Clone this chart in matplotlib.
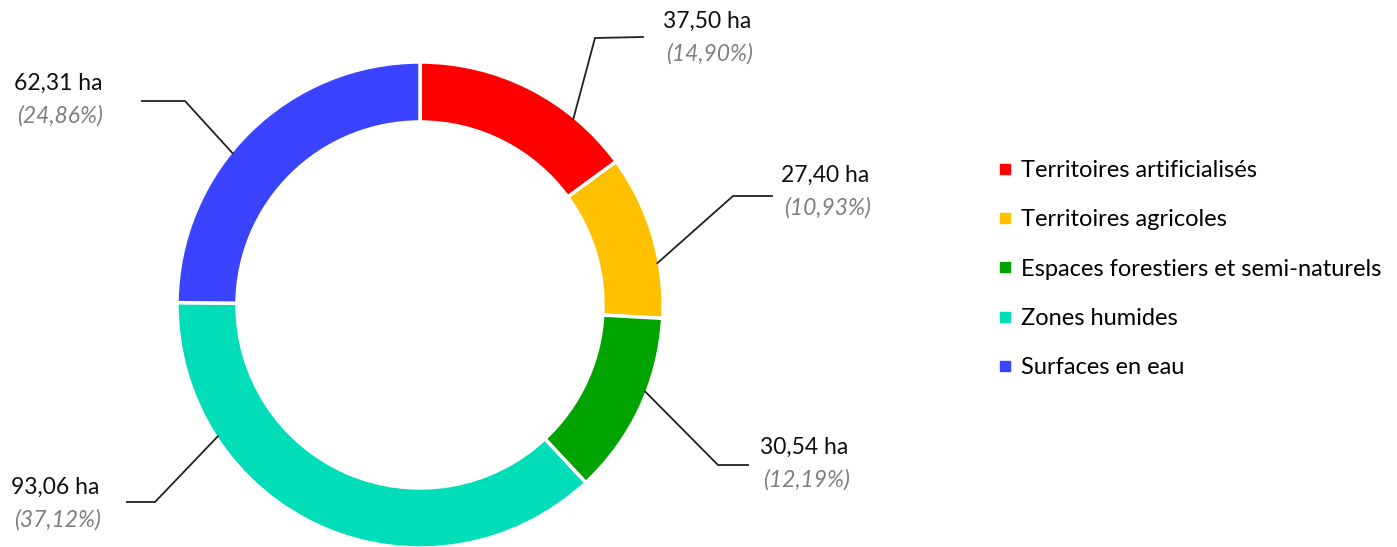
import numpy as np
import matplotlib.pyplot as plt
from matplotlib.lines import Line2D

plt.rcParams['font.family'] = ['Lato', 'DejaVu Sans']

categories = ["Territoires artificialisés", "Territoires agricoles",
              "Espaces forestiers et semi-naturels", "Zones humides", "Surfaces en eau"]
areas_ha = [37.50, 27.40, 30.54, 93.06, 62.31]
area_labels = ["37,50 ha", "27,40 ha", "30,54 ha", "93,06 ha", "62,31 ha"]
pct_labels = ["(14,90%)", "(10,93%)", "(12,19%)", "(37,12%)", "(24,86%)"]
colors = ["#FF0000", "#FFC000", "#00A300", "#00DDB8", "#3A44FF"]

W, H = 1397, 547
fig = plt.figure(figsize=(W / 100, H / 100), dpi=100)
ax = fig.add_axes([0, 0, 1, 1])
ax.set_xlim(0, W)
ax.set_ylim(0, H)
ax.set_aspect('equal')
ax.axis('off')

cx, cy = 420, H - 305  # donut centre in pixel-like coords
R = 243
wedges, _ = ax.pie(areas_ha, startangle=90, counterclock=False, radius=R, center=(cx, cy),
                   colors=colors, wedgeprops=dict(width=60, edgecolor='white', linewidth=2.5))
ax.set_xlim(0, W)
ax.set_ylim(0, H)

# leader lines: angle on the rim (clockwise from top), elbow, end; label centre
anchor_deg = [39.5, 80, 111, 237, 309]
elbows = [(595, 38), (733, 196), (718, 465), (155, 502), (185, 101)]
ends = [(643, 37), (772, 196), (748, 465), (127, 502), (142, 101)]
label_pos = [(707, 21), (825, 175), (804, 447), (55, 487), (58, 83)]

for i in range(len(areas_ha)):
    a = np.deg2rad(anchor_deg[i])
    sx = cx + (R - 2) * np.sin(a)
    sy = cy + (R - 2) * np.cos(a)
    ex, ey = elbows[i]
    tx, ty = ends[i]
    ax.plot([sx, ex, tx], [sy, H - ey, H - ty], color='#202020', lw=1.3, solid_joinstyle='miter')
    lx, ly = label_pos[i]
    ax.text(lx, H - ly, area_labels[i], ha='center', va='center', fontsize=16.5, color='#101010')
    ax.text(lx + 2, H - ly - 33, pct_labels[i], ha='center', va='center', fontsize=16.5,
            color='#7F7F7F', style='italic')

handles = [Line2D([0], [0], marker='s', color='none', markerfacecolor=c, markeredgecolor=c,
                  markersize=7) for c in colors]
fig.legend(handles, categories, loc='center left', bbox_to_anchor=(999 / W, 1 - 269 / H),
           frameon=False, fontsize=17, handlelength=0.5, handletextpad=0.45,
           labelspacing=1.2, borderpad=0, borderaxespad=0)

fig.savefig('out.png', dpi=100)
